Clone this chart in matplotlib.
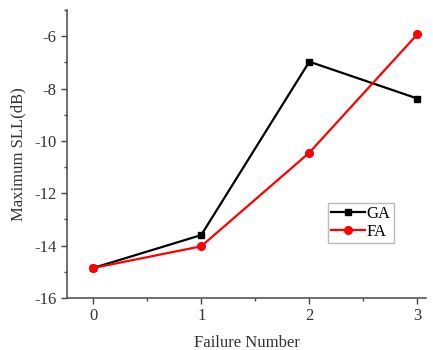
import matplotlib
matplotlib.use("Agg")
import matplotlib.pyplot as plt
from matplotlib.ticker import MultipleLocator

plt.rcParams['font.family'] = ['Liberation Serif', 'DejaVu Serif']
plt.rcParams['axes.unicode_minus'] = False

failure = [0, 1, 2, 3]
ga = [-14.86, -13.6, -6.97, -8.38]
fa = [-14.86, -14.03, -10.45, -5.92]
xticks = [0, 1, 2, 3]
yticks = [-16, -14, -12, -10, -8, -6]

fig = plt.figure(figsize=(4.33, 3.5), dpi=100)
ax = fig.add_axes([0.155, 0.149, 0.829, 0.822])
ax.plot(failure, ga, color='black', marker='s', markersize=5, linewidth=1.6, label='GA')
ax.plot(failure, fa, color='red', marker='o', markersize=5.5, linewidth=1.6, label='FA')

ax.set_xlim(-0.24, 3.08)
ax.set_ylim(-16, -5)
ax.set_xticks(xticks)
ax.set_yticks(yticks)
ax.xaxis.set_minor_locator(MultipleLocator(0.5))
ax.yaxis.set_minor_locator(MultipleLocator(1))
ax.tick_params(which='major', direction='out', length=4, width=1, labelsize=12, colors='#444444', labelcolor='#333333')
ax.tick_params(which='minor', direction='out', length=2.5, width=1, colors='#444444')
for s in ['top', 'right']:
    ax.spines[s].set_visible(False)
for s in ['left', 'bottom']:
    ax.spines[s].set_color('#555555')
    ax.spines[s].set_linewidth(1.2)

ax.set_xlabel('Failure Number', fontsize=12, color='#333333', labelpad=8)
ax.set_ylabel('Maximum SLL(dB)', fontsize=12, color='#333333', labelpad=6)

leg = ax.legend(loc='upper left', bbox_to_anchor=(0.727, 0.33), fontsize=12, frameon=True,
                fancybox=False, edgecolor='#aaaaaa', handlelength=2.0, borderpad=0.2,
                labelspacing=0.1, handletextpad=0.1, borderaxespad=0)
leg.get_frame().set_linewidth(1.0)

fig.savefig('out.png', dpi=100)
